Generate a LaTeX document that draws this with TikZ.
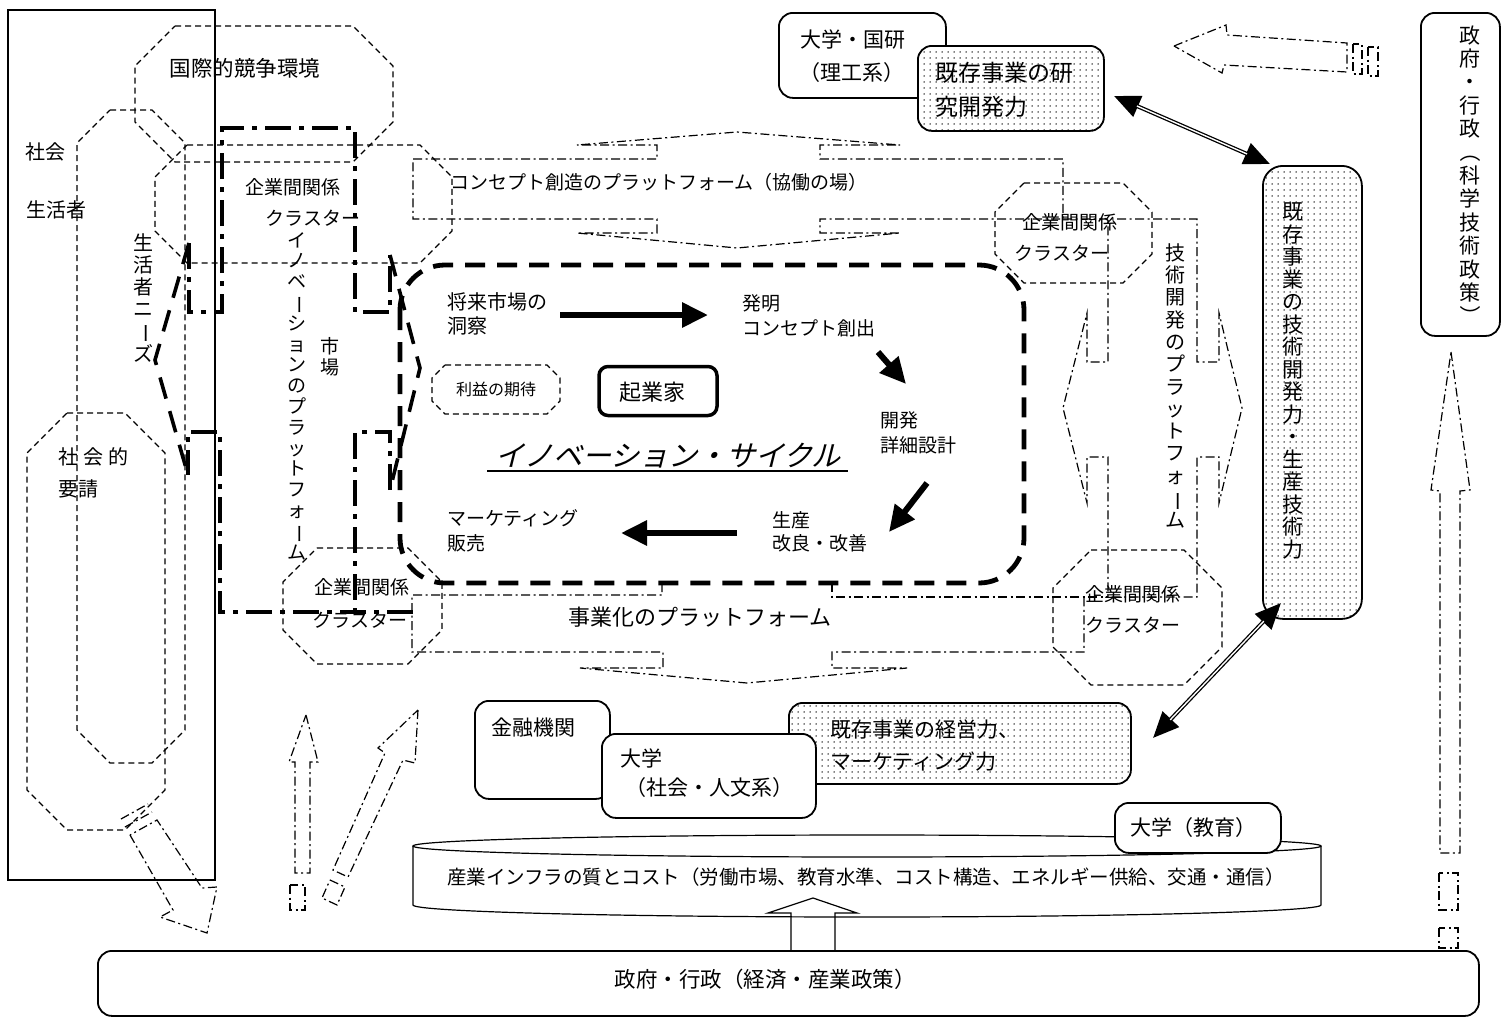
\documentclass[tikz,border=0pt]{standalone}
\usepackage{fontspec}
\usepackage{graphicx}
\newfontfamily\jp{Noto Sans CJK JP}
\newfontfamily\jpsl[FakeSlant=0.25]{Noto Sans CJK JP}
\usetikzlibrary{arrows.meta,patterns.meta}
\newcommand{\myfs}[2]{\fontsize{#1}{#2}\selectfont}
\newcommand{\rotch}[1]{\rotatebox[origin=c]{-90}{#1}}
\newcommand{\octo}[6][]{\draw[#1] (#2+#6,#3) -- (#4-#6,#3) -- (#4,#3+#6) -- (#4,#5-#6) -- (#4-#6,#5) -- (#2+#6,#5) -- (#2,#5-#6) -- (#2,#3+#6) -- cycle;}
\tikzset{
  dsh/.style={line width=1.2pt, dash pattern=on 6pt off 4pt},
  ddot/.style={line width=1.2pt, dash pattern=on 9pt off 3.5pt on 2pt off 3.5pt},
  tdd/.style={line width=3.2pt, dash pattern=on 26pt off 8pt on 5pt off 8pt},
  tds/.style={line width=3.6pt, dash pattern=on 22pt off 13pt},
  cycbox/.style={line width=4.8pt, dash pattern=on 20pt off 12pt, rounded corners=45pt},
  rbox/.style={draw, line width=1.8pt, rounded corners=14pt, inner sep=0pt},
  wbox/.style={rbox, fill=white},
  dotbox/.style={rbox, preaction={fill=white}, pattern={Dots[distance=6pt, radius=0.75pt]}},
  tx/.style={inner sep=0pt, font=\jp\myfs{#1}{#1}},
  tx/.default=19,
  vt/.style n args={2}{inner sep=0pt, align=center, font=\jp\myfs{#1}{#2}},
  ml/.style n args={2}{inner sep=0pt, align=left, anchor=west, font=\jp\myfs{#1}{#2}},
  cyc/.style={line width=6pt, -{Triangle[length=26pt,width=24pt]}},
  dbl/.style={line width=4pt, {Triangle[length=26pt,width=22pt]}-{Triangle[length=26pt,width=22pt]}},
  dblin/.style={white, line width=1.4pt, shorten <=25pt, shorten >=25pt},
}
\begin{document}
\begin{tikzpicture}[x=1pt,y=-1pt]
\useasboundingbox (0,0) rectangle (1502,1018);

% society frame
\draw[line width=1.2pt] (8,10) rectangle (215,880);

% dashed octagons
\octo[dsh]{135}{26}{393}{162}{40}
\octo[dsh]{77}{110}{185}{763}{33}
\octo[dsh]{27}{413}{165}{830}{40}
\octo[dsh]{155}{145}{452}{263}{32}
\octo[dsh]{283}{548}{442}{664}{34}
\octo[dsh]{995}{183}{1152}{283}{29}
\octo[dsh]{1053}{550}{1222}{685}{38}
\octo[dsh]{432}{365}{560}{414}{13}

% concept platform
\draw[ddot] (413,159) -- (657,159) -- (657,145) -- (577,145) -- (737,132) -- (900,145) -- (820,145) -- (820,159) -- (1063,159) -- (1063,219) -- (820,219) -- (820,233) -- (900,233) -- (737,248) -- (577,233) -- (657,233) -- (657,219) -- (413,219) -- cycle;
% technology platform
\draw[ddot] (1063,219) -- (1197,219) -- (1197,362) -- (1219,362) -- (1219,313) -- (1242,408) -- (1219,503) -- (1219,457) -- (1197,457) -- (1197,597) -- (1108,597) -- (1108,457) -- (1087,457) -- (1087,503) -- (1063,408) -- (1087,313) -- (1087,362) -- (1108,362) -- (1108,219);
% business platform
\draw[ddot] (662,583) -- (662,595) -- (412,595) -- (412,652) -- (663,652) -- (663,668) -- (580,668) -- (747,683) -- (907,668) -- (832,668) -- (832,652) -- (1084,652) -- (1084,597);
\draw[ddot] (832,583) -- (832,597) -- (1108,597);
% innovation platform (thick)
\draw[tdd] (189,243) -- (189,312) -- (222,312) -- (222,128) -- (355,128) -- (355,312) -- (390,312) -- (390,255);
\draw[tdd] (390,490) -- (390,432) -- (355,432) -- (355,612);
\draw[tdd] (413,612) -- (220,612) -- (220,432) -- (188,432) -- (188,475);
\draw[tds] (189,243) -- (155,360) -- (188,475);
\draw[tds] (390,255) -- (420,368) -- (390,490);

% innovation cycle box
\draw[cycbox] (400,265) rectangle (1024,583);

% hollow dash-dot arrows
\draw[ddot] (1174,46) -- (1226,25) -- (1227,35) -- (1347,43) -- (1347,72) -- (1224,65) -- (1222,73) -- cycle;
\draw[ddot] (1353,44) rectangle (1362,74);
\draw[ddot] (1368,47) rectangle (1378,76);
\draw[ddot] (1451,352) -- (1470,490) -- (1460,491) -- (1460,853) -- (1440,853) -- (1440,491) -- (1431,490) -- cycle;
\draw[ddot] (1439,873) rectangle (1458,910);
\draw[ddot] (1439,928) rectangle (1458,948);
\draw[ddot] (130,835) -- (173,910) -- (160,917) -- (207,933) -- (217,887) -- (202,888) -- (157,820) -- cycle;
\draw[ddot] (125,827) -- (152,812);
\draw[ddot] (121,819) -- (148,804);
\draw[ddot] (306,715) -- (318,762) -- (310,762) -- (310,873) -- (295,873) -- (295,762) -- (289,762) -- cycle;
\draw[ddot] (290,885) rectangle (305,910);
\draw[ddot] (418,710) -- (415,763) -- (403,760) -- (348,877) -- (333,870) -- (385,753) -- (378,748) -- cycle;
\draw[ddot] (330,880) -- (345,887) -- (337,905) -- (322,898) -- cycle;

% boxes
\node[wbox, minimum width=167pt, minimum height=85pt, anchor=north west] (unisci) at (778,12) {};
\node[dotbox, minimum width=186pt, minimum height=85pt, anchor=north west] (resbox) at (917,45) {};
\node[wbox, minimum width=79pt, minimum height=323pt, anchor=north west] (govsci) at (1420,12) {};
\node[dotbox, rounded corners=20pt, minimum width=99pt, minimum height=453pt, anchor=north west] (techbox) at (1262,165) {};
\node[wbox, minimum width=135pt, minimum height=98pt, anchor=north west] (fin) at (474,700) {};
\node[dotbox, minimum width=342pt, minimum height=81pt, anchor=north west] (mgmtbox) at (788,702) {};
\node[wbox, minimum width=214pt, minimum height=84pt, anchor=north west] (unisoc) at (601,733) {};
% cylinder
\draw[line width=1.2pt] (867,846) ellipse [x radius=454, y radius=11];
\draw[line width=1.2pt] (413,846) -- (413,905) arc[start angle=180, end angle=0, x radius=454, y radius=12] -- (1321,846);
\node[wbox, minimum width=166pt, minimum height=50pt, anchor=north west] (uniedu) at (1114,802) {};
\node[wbox, minimum width=1381pt, minimum height=65pt, anchor=north west] (govecon) at (97,950) {};
\draw[line width=1.2pt] (791,950) -- (791,913) -- (768,913) -- (813,898) -- (857,913) -- (835,913) -- (835,950);
\node[rbox, line width=3.5pt, rounded corners=9pt, fill=white, minimum width=118pt, minimum height=49pt] (ent) at (658,391) {};

% texts
\node[tx=20] (soc) at (45,152) {社会};
\node[tx=20] (liv) at (56,210) {生活者};
\node[tx=21.5] (intl) at (245,68) {国際的競争環境};
\node[vt={20}{22}] (needs) at (143,298) {生\\活\\者\\ニ\\\rotch{ー}\\ズ};
\node[tx=20, anchor=west] (req1) at (58,457) {社\hspace{5pt}会\hspace{5pt}的};
\node[tx=20, anchor=west] (req2) at (58,489) {要請};
\node[tx] (c1a) at (293,187) {企業間関係};
\node[tx] (c1b) at (313,218) {クラスター};
\node[tx] (c2a) at (362,587) {企業間関係};
\node[tx] (c2b) at (360,620) {クラスター};
\node[tx] (c3a) at (1070,222) {企業間関係};
\node[tx] (c3b) at (1062,253) {クラスター};
\node[tx] (c4a) at (1133,594) {企業間関係};
\node[tx] (c4b) at (1133,625) {クラスター};
\node[vt={19}{20.8}] (innov) at (297,396) {イ\\ノ\\ベ\\\rotch{ー}\\シ\\ョ\\ン\\の\\プ\\ラ\\ッ\\ト\\フ\\ォ\\\rotch{ー}\\ム};
\node[vt={19}{21}] (market) at (330,357) {市\\場};
\node[vt={20}{22.3}] (techpf) at (1175,386) {技\\術\\開\\発\\の\\プ\\ラ\\ッ\\ト\\フ\\ォ\\\rotch{ー}\\ム};
\node[vt={21}{22.5}] (techtx) at (1293,381) {既\\存\\事\\業\\の\\技\\術\\開\\発\\力\\・\\生\\産\\技\\術\\力};
\node[vt={21}{23.4}] (govtx) at (1470,176) {政\\府\\・\\行\\政\\\rotch{（}\\科\\学\\技\\術\\政\\策\\\rotch{）}};
\node[tx] (concept) at (659,182) {コンセプト創造のプラットフォーム（協働の場）};
\node[tx=22] (biz) at (700,617) {事業化のプラットフォーム};
\node[ml={20}{24}] (obs) at (447,314) {将来市場の\\洞察};
\node[ml={19}{25}] (inv) at (742,316) {発明\\コンセプト創出};
\node[ml={19}{25}] (dev) at (880,433) {開発\\詳細設計};
\node[ml={19}{23}] (prod) at (772,532) {生産\\改良・改善};
\node[ml={19}{25}] (mktg) at (447,531) {マーケティング\\販売};
\node[tx=16] (profit) at (496,389) {利益の期待};
\node[tx=22] (enttx) at (652,392) {起業家};
\node[inner sep=0pt, font=\jpsl\myfs{29}{29}] (cycle) at (668,456) {イノベーション・サイクル};
\draw[line width=1.6pt] (487,471) -- (848,471);
\node[tx=21] (t1) at (853,40) {大学・国研};
\node[tx=21] (t2) at (852,73) {（理工系）};
\node[tx=23, anchor=west] (t3) at (935,73) {既存事業の研};
\node[tx=23, anchor=west] (t4) at (935,107) {究開発力};
\node[tx=21] (t5) at (533,728) {金融機関};
\node[tx=21, anchor=west] (t6) at (620,758) {大学};
\node[tx=21] (t7) at (709,788) {（社会・人文系）};
\node[tx=21, anchor=west] (t8) at (830,730) {既存事業の経営力、};
\node[tx=21, anchor=west] (t9) at (830,762) {マーケティング力};
\node[tx=21] (t10) at (1193,828) {大学（教育）};
\node[tx=19.5] (infra) at (866,877) {産業インフラの質とコスト（労働市場、教育水準、コスト構造、エネルギー供給、交通・通信）};
\node[tx=21.5] (t11) at (765,979) {政府・行政（経済・産業政策）};

% cycle arrows
\coordinate (a1s) at (560,315); \coordinate (a1e) at (708,315);
\coordinate (a2s) at (878,352); \coordinate (a2e) at (906,384);
\coordinate (a3s) at (927,483); \coordinate (a3e) at (889,532);
\coordinate (a4s) at (737,533); \coordinate (a4e) at (621,533);
\draw[cyc] (a1s) -- (a1e);
\draw[cyc] (a2s) -- (a2e);
\draw[cyc] (a3s) -- (a3e);
\draw[cyc] (a4s) -- (a4e);

% double arrows
\coordinate (d1a) at (1114,96); \coordinate (d1b) at (1270,164);
\coordinate (d2a) at (1281,603); \coordinate (d2b) at (1153,738);
\draw[dbl] (d1a) -- (d1b);
\draw[dblin] (d1a) -- (d1b);
\draw[dbl] (d2a) -- (d2b);
\draw[dblin] (d2a) -- (d2b);
\end{tikzpicture}
\end{document}
